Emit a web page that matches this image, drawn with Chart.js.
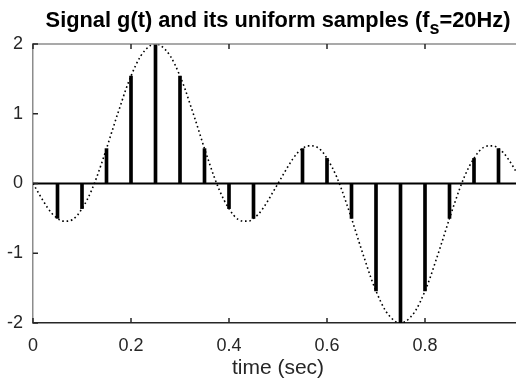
<!DOCTYPE html>
<html>
<head>
<meta charset="utf-8">
<script src="https://cdn.jsdelivr.net/npm/chart.js@4"></script>
<style>
  html, body { margin: 0; padding: 0; background: #fff; overflow: hidden; }
  #wrap { width: 530px; height: 385px; }
</style>
</head>
<body>
<div id="wrap"><canvas id="c" width="530" height="385"></canvas></div>
<script>
// samples at fs = 20 Hz
const sampleTimes = [0, 0.05, 0.1, 0.15, 0.2, 0.25, 0.3, 0.35, 0.4, 0.45, 0.5,
  0.55, 0.6, 0.65, 0.7, 0.75, 0.8, 0.85, 0.9, 0.95, 1];
const sampleValues = [0, -0.5, -0.36, 0.5, 1.54, 2, 1.54, 0.5, -0.36, -0.5, 0,
  0.5, 0.36, -0.5, -1.54, -2, -1.54, -0.5, 0.36, 0.5, 0];

// dotted curve g(t), one value every 0.01 s
const curveStep = 0.01;
const curveValues = [
  0, -0.12, -0.24, -0.35, -0.44, -0.5, -0.54, -0.54, -0.52, -0.46,
  -0.36, -0.24, -0.09, 0.09, 0.29, 0.5, 0.72, 0.94, 1.15, 1.36,
  1.54, 1.70, 1.83, 1.92, 1.98, 2, 1.98, 1.92, 1.83, 1.70,
  1.54, 1.36, 1.15, 0.94, 0.72, 0.5, 0.29, 0.09, -0.09, -0.24,
  -0.36, -0.46, -0.52, -0.54, -0.54, -0.5, -0.44, -0.35, -0.24, -0.12,
  0, 0.12, 0.24, 0.35, 0.44, 0.5, 0.54, 0.54, 0.52, 0.46,
  0.36, 0.24, 0.09, -0.09, -0.29, -0.5, -0.72, -0.94, -1.15, -1.36,
  -1.54, -1.70, -1.83, -1.92, -1.98, -2, -1.98, -1.92, -1.83, -1.70,
  -1.54, -1.36, -1.15, -0.94, -0.72, -0.5, -0.29, -0.09, 0.09, 0.24,
  0.36, 0.46, 0.52, 0.54, 0.54, 0.5, 0.44, 0.35, 0.24, 0.12, 0
];

const xTicks = [0, 0.2, 0.4, 0.6, 0.8, 1];
const yTicks = [-2, -1, 0, 1, 2];

const FONT = "'Liberation Sans', Arial, sans-serif";

// inward ticks + top box line + title with subscript
const axesDecor = {
  id: "axesDecor",
  afterDraw(chart) {
    const { ctx, chartArea: a, scales: { x, y } } = chart;
    ctx.save();
    ctx.strokeStyle = "#8c8c8c";
    ctx.lineWidth = 1.5;
    ctx.beginPath();
    ctx.moveTo(a.left, a.top);
    ctx.lineTo(a.right, a.top);
    ctx.stroke();

    ctx.strokeStyle = "#262626";
    ctx.lineWidth = 1.5;
    ctx.beginPath();
    xTicks.forEach(v => {
      const px = x.getPixelForValue(v);
      ctx.moveTo(px, a.bottom); ctx.lineTo(px, a.bottom - 5);
      ctx.moveTo(px, a.top); ctx.lineTo(px, a.top + 5);
    });
    yTicks.forEach(v => {
      const py = y.getPixelForValue(v);
      ctx.moveTo(a.left, py); ctx.lineTo(a.left + 5, py);
    });
    ctx.stroke();

    // title
    const main = "Signal g(t) and its uniform samples (f";
    const sub = "s";
    const tail = "=20Hz)";
    ctx.fillStyle = "#000";
    ctx.textBaseline = "alphabetic";
    ctx.font = `bold 21.8px ${FONT}`;
    const w1 = ctx.measureText(main).width;
    const w3 = ctx.measureText(tail).width;
    ctx.font = `bold 18px ${FONT}`;
    const w2 = ctx.measureText(sub).width;
    const cx = (a.left + a.right) / 2;
    let tx = cx - (w1 + w2 + w3) / 2;
    ctx.font = `bold 21.8px ${FONT}`;
    ctx.fillText(main, tx, 27);
    tx += w1;
    ctx.font = `bold 18px ${FONT}`;
    ctx.fillText(sub, tx, 34);
    tx += w2;
    ctx.font = `bold 21.8px ${FONT}`;
    ctx.fillText(tail, tx, 27);
    ctx.restore();
  }
};

new Chart(document.getElementById("c"), {
  type: "bar",
  data: {
    datasets: [
      {
        type: "line",
        data: curveValues.map((v, i) => ({ x: i * curveStep, y: v })),
        borderColor: "#000",
        borderWidth: 1.6,
        borderDash: [1.6, 2.8],
        pointRadius: 0,
        cubicInterpolationMode: "monotone",
        order: 3
      },
      {
        type: "line",
        data: [{ x: 0, y: 0 }, { x: 1, y: 0 }],
        borderColor: "#000",
        borderWidth: 2,
        pointRadius: 0,
        order: 2
      },
      {
        type: "bar",
        data: sampleTimes.map((t, i) => ({ x: t, y: sampleValues[i] })),
        backgroundColor: "#000",
        borderWidth: 0,
        barThickness: 3,
        order: 1
      }
    ]
  },
  options: {
    responsive: false,
    animation: false,
    layout: { padding: { top: 44, right: 7, left: 0, bottom: 0 } },
    plugins: { legend: { display: false }, tooltip: { enabled: false }, title: { display: false } },
    scales: {
      x: {
        type: "linear",
        min: 0, max: 1,
        offset: false,
        afterFit(s) { s.height = 62; s.paddingLeft = 0; s.paddingRight = 0; },
        afterBuildTicks(s) { s.ticks = xTicks.map(v => ({ value: v })); },
        grid: { display: false, drawTicks: false },
        border: { display: true, color: "#262626", width: 1.5 },
        ticks: {
          color: "#262626",
          font: { family: FONT, size: 18 },
          padding: 12,
          maxRotation: 0,
          callback: v => String(Math.round(v * 10) / 10)
        },
        title: {
          display: true,
          text: "time (sec)",
          color: "#262626",
          font: { family: FONT, size: 21 },
          padding: { top: 0 }
        }
      },
      y: {
        min: -2, max: 2,
        afterFit(s) { s.width = 33; },
        afterBuildTicks(s) { s.ticks = yTicks.map(v => ({ value: v })); },
        grid: { display: false, drawTicks: false },
        border: { display: true, color: "#8c8c8c", width: 1.5 },
        ticks: {
          color: "#262626",
          font: { family: FONT, size: 18 },
          padding: 10
        }
      }
    }
  },
  plugins: [axesDecor]
});
</script>
</body>
</html>
